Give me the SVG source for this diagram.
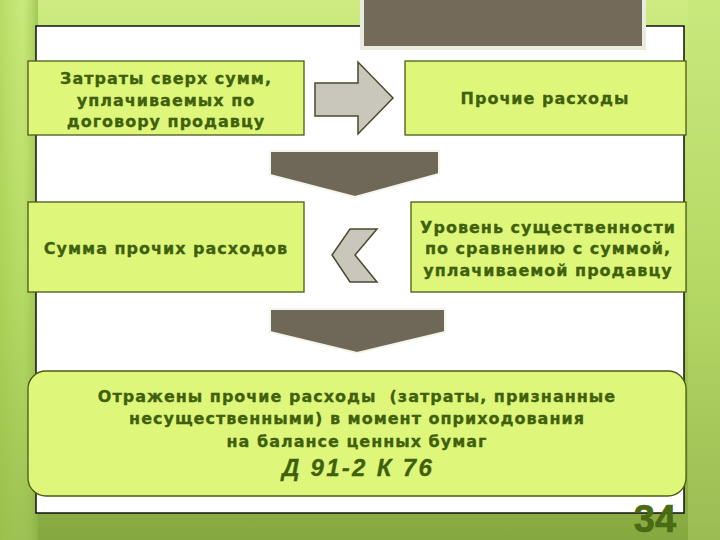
<svg xmlns="http://www.w3.org/2000/svg" width="720" height="540" viewBox="0 0 720 540">
<defs>
<linearGradient id="bg" x1="0" y1="0" x2="0" y2="1">
<stop offset="0" stop-color="#cdeb80"/>
<stop offset="0.5" stop-color="#b0d55e"/>
<stop offset="1" stop-color="#86a840"/>
</linearGradient>
<linearGradient id="band" x1="0" y1="0" x2="1" y2="0">
<stop offset="0" stop-color="#a8d050" stop-opacity="0.6"/>
<stop offset="0.6" stop-color="#c4e674" stop-opacity="0.4"/>
<stop offset="1" stop-color="#8fb846" stop-opacity="0.7"/>
</linearGradient>
<style>
.box{fill:#def77b;stroke:#4c5a18;stroke-width:1.3}
.t{font-family:"DejaVu Sans","Liberation Sans",sans-serif;font-weight:bold;font-size:16px;fill:#40600c;stroke:#40600c;stroke-width:0.3;text-anchor:middle;letter-spacing:1px}
.gray{fill:#c9c6bc;stroke:#4a4a2c;stroke-width:1.5;stroke-linejoin:miter}
.dark{fill:#6f6757;stroke:#f4f6ea;stroke-width:2}
</style>
</defs>
<rect x="0" y="0" width="720" height="540" fill="url(#bg)"/>
<rect x="0" y="0" width="38" height="540" fill="url(#band)"/>
<rect x="688" y="0" width="32" height="540" fill="#c2e276" opacity="0.35"/>
<rect x="36" y="26" width="648" height="487" fill="#ffffff" stroke="#111111" stroke-width="1.5"/>
<rect x="362" y="-4" width="282" height="52" fill="#736a5a" stroke="#e9ebdf" stroke-width="4"/>

<g id="connectors">
<polygon class="gray" points="315,83 358,83 358,62 393,98 358,134 358,116 315,116"/>
<polygon class="dark" points="270,151 439,151 439,174 355,197 270,175"/>
<polygon class="gray" points="350,229 377,229 355,255 377,282 350,282 332,255"/>
<polygon class="dark" points="270,309 445,309 445,332 357,353 270,332"/>
</g>

<g id="node1">
<rect class="box" x="28" y="61" width="276" height="74"/>
<text class="t" x="166" y="84">Затраты сверх сумм,</text>
<text class="t" x="166" y="105.5">уплачиваемых по</text>
<text class="t" x="166" y="127">договору продавцу</text>
</g>
<g id="node2">
<rect class="box" x="405" y="61" width="281" height="74"/>
<text class="t" x="545" y="103.5">Прочие расходы</text>
</g>
<g id="node3">
<rect class="box" x="28" y="202" width="276" height="90"/>
<text class="t" x="166" y="253.5">Сумма прочих расходов</text>
</g>
<g id="node4">
<rect class="box" x="411" y="202" width="275" height="90"/>
<text class="t" x="548" y="232.5">Уровень существенности</text>
<text class="t" x="548" y="254">по сравнению с суммой,</text>
<text class="t" x="548" y="275.5">уплачиваемой продавцу</text>
</g>
<g id="node5">
<rect class="box" x="28" y="371" width="658" height="125" rx="18" ry="18"/>
<text class="t" x="357" y="401.5" xml:space="preserve">Отражены прочие расходы  (затраты, признанные</text>
<text class="t" x="357" y="424">несущественными) в момент оприходования</text>
<text class="t" x="357" y="446.5">на балансе ценных бумаг</text>
<text class="t" x="358" y="476" style="font-family:'Liberation Sans',Arial,sans-serif;font-size:24px;font-style:italic;letter-spacing:2.3px">Д 91-2 К 76</text>
</g>
<text x="655" y="532" style="font-family:'Liberation Sans',Arial,sans-serif;font-weight:bold;font-size:38px;fill:#4b6a14;stroke:#4b6a14;stroke-width:0.6;text-anchor:middle">34</text>
</svg>
